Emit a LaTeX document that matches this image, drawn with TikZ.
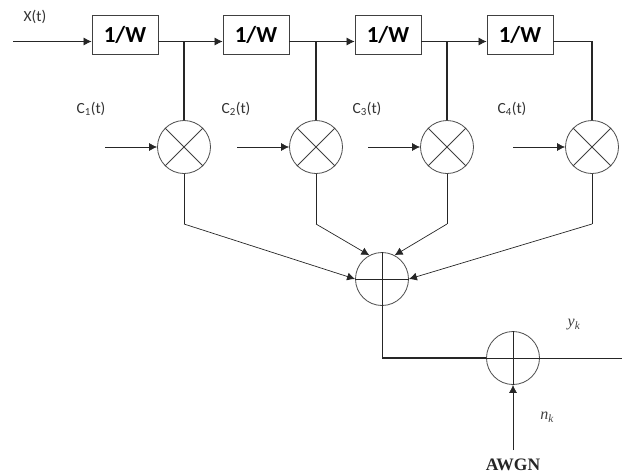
\documentclass[tikz,border=0pt]{standalone}
\usepackage{fontspec}
\setmainfont{Carlito}
\newfontfamily\serifx{Liberation Serif}
\usetikzlibrary{arrows.meta}
\tikzset{
  delaybox/.style={draw=black!75,line width=0.8pt,minimum width=66pt,minimum height=39pt,inner sep=0pt,font=\fontsize{23}{25}\selectfont\bfseries},
  mixer/.style={draw=black!70,line width=0.8pt,circle,minimum size=53pt,inner sep=0pt},
  wire/.style={line width=0.7pt,black!85},
  thick wire/.style={line width=1.4pt,black!85},
  arrowwire/.style={wire,-{Latex[length=8pt,width=8pt]}},
  lab/.style={inner sep=0pt,font=\fontsize{15.5}{17}\selectfont,text=black!80},
  mathlab/.style={inner sep=0pt,font=\fontsize{16}{17}\selectfont,text=black!75},
}
\begin{document}
\begin{tikzpicture}[x=1pt,y=-1pt]
\useasboundingbox (0,0) rectangle (622,475);
\node[delaybox] (b1) at (125,34.5) {1/W};
\node[delaybox] (b2) at (256,34.5) {1/W};
\node[delaybox] (b3) at (388,34.5) {1/W};
\node[delaybox] (b4) at (520,34.5) {1/W};
\node[mixer] (m1) at (184,147) {};
\node[mixer] (m2) at (316,147) {};
\node[mixer] (m3) at (447,147) {};
\node[mixer] (m4) at (592,147) {};
\node[mixer] (s1) at (382,279) {};
\node[mixer] (s2) at (513,358) {};
\foreach \n in {m1,m2,m3,m4}{
  \draw[line width=0.8pt,black!75] (\n.45)--(\n.225) (\n.135)--(\n.315);
}
\foreach \n in {s1,s2}{
  \draw[line width=0.8pt,black!85] (\n.north)--(\n.south) (\n.west)--(\n.east);
}
\coordinate (in) at (13,41.5);
\coordinate (c1) at (105,147);
\coordinate (c2) at (237,147);
\coordinate (c3) at (368,147);
\coordinate (c4) at (513,147);
\coordinate (j1) at (184,41.5);
\coordinate (j2) at (316,41.5);
\coordinate (j3) at (447,41.5);
\coordinate (j4) at (592,41.5);
\coordinate (d1) at (184,224);
\coordinate (d2) at (316,224);
\coordinate (d3) at (447,224);
\coordinate (d4) at (592,224);
\coordinate (e1) at (382,358);
\coordinate (out) at (622,358);
\coordinate (n) at (513,450);
\draw[arrowwire] (in) -- (b1.west |- in);
\draw[arrowwire] (b1.east |- j1) -- (b2.west |- j1);
\draw[arrowwire] (b2.east |- j2) -- (b3.west |- j2);
\draw[arrowwire] (b3.east |- j3) -- (b4.west |- j3);
\draw[thick wire] (b4.east |- j4) -- (j4) -- (m4.north);
\draw[thick wire] (j1) -- (m1.north);
\draw[thick wire] (j2) -- (m2.north);
\draw[thick wire] (j3) -- (m3.north);
\draw[arrowwire] (c1) -- (m1.west);
\draw[arrowwire] (c2) -- (m2.west);
\draw[arrowwire] (c3) -- (m3.west);
\draw[arrowwire] (c4) -- (m4.west);
\draw[wire] (m1.south) -- (d1);
\draw[wire] (m2.south) -- (d2);
\draw[wire] (m3.south) -- (d3);
\draw[wire] (m4.south) -- (d4);
\draw[arrowwire] (d1) -- (s1.west);
\draw[arrowwire] (d2) -- (s1.118);
\draw[arrowwire] (d3) -- (s1.62);
\draw[arrowwire] (d4) -- (s1.east);
\draw[wire] (s1.south) -- (e1);
\draw[thick wire] (e1) -- (s2.west);
\draw[wire] (s2.east) -- (out);
\draw[arrowwire] (n) -- (s2.south);
\node[lab] (tx) at (35,17) {X(t)};
\node[lab] (t1) at (91,109) {C\textsubscript{1}(t)};
\node[lab] (t2) at (236,109) {C\textsubscript{2}(t)};
\node[lab] (t3) at (367,109) {C\textsubscript{3}(t)};
\node[lab] (t4) at (512,109) {C\textsubscript{4}(t)};
\node[mathlab] (ty) at (574,325) {\serifx\itshape y\textsubscript{k}};
\node[mathlab] (tn) at (547,417) {\serifx\itshape n\textsubscript{k}};
\node[inner sep=0pt,font=\fontsize{17.5}{19}\selectfont\serifx\bfseries,text=black!85] (ta) at (513,465) {AWGN};
\end{tikzpicture}
\end{document}
